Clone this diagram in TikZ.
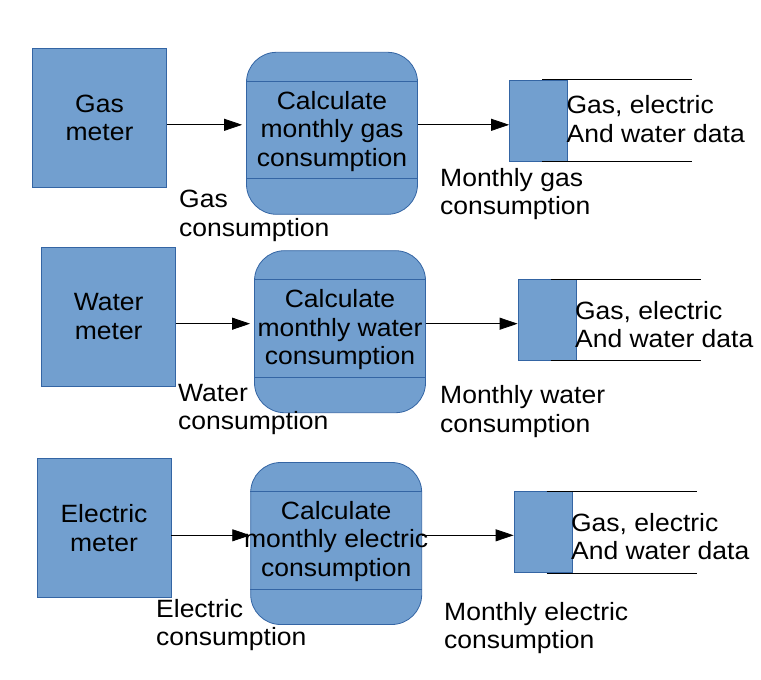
\documentclass[tikz,border=0pt]{standalone}
\usepackage{fontspec}
\setmainfont{Liberation Sans}[FakeStretch=1.06]
\usetikzlibrary{arrows.meta,positioning}

\definecolor{boxfill}{HTML}{729FCF}
\definecolor{boxline}{HTML}{3465A4}

\begin{document}
\begin{tikzpicture}[
	                  x = 1pt,
	                  y = -1pt,
	  every node/.style = {font=\fontsize{25}{28.5}\selectfont},
	       meter/.style = {rectangle, draw=boxline, fill=boxfill, line width=0.8pt,
	                       minimum width=134pt, minimum height=139pt, align=center, inner sep=0pt},
	     process/.style = {rectangle, rounded corners=30pt, draw=boxline, fill=boxfill, line width=0.8pt,
	                       minimum width=171pt, minimum height=162pt, inner sep=0pt},
	    calcword/.style = {anchor=north, align=center, inner sep=0pt},
	       store/.style = {rectangle, draw=boxline, fill=boxfill, line width=0.8pt,
	                       minimum width=58pt, minimum height=81pt, inner sep=0pt},
	        word/.style = {anchor=north west, align=left, inner sep=0pt},
	        flow/.style = {-{Triangle[length=18pt,width=12pt]}, line width=0.8pt}
	                     ]
	\useasboundingbox (0,0) rectangle (761,680);

	% gas
	\node[meter] (gasmeter) at (99.5,117.8) {Gas\\meter};
	\node[process] (gasproc) at (332,133.3) {};
	\draw[boxline, line width=0.8pt] ([yshift=-29pt]gasproc.north west) -- ([yshift=-29pt]gasproc.north east);
	\draw[boxline, line width=0.8pt] ([yshift=36pt]gasproc.south west) -- ([yshift=36pt]gasproc.south east);
	\node[calcword] (gascalc) at ([yshift=-39pt]gasproc.north) {Calculate\\monthly gas\\consumption};
	\node[store] (gasstore) at (538.5,120.5) {};
	\draw ([xshift=33pt]gasstore.north west) -- ++(150,0);
	\draw ([xshift=33pt]gasstore.south west) -- ++(150,0);
	\node[word] (gasdata) at ([xshift=-1.5pt,yshift=-16pt]gasstore.north east) {Gas, electric\\And water data};
	\coordinate (gasflow) at ([yshift=-7pt]gasmeter.east);
	\draw[flow, shorten >=4pt] (gasflow) -- (gasflow -| gasproc.west);
	\draw[flow] (gasflow -| gasproc.east) -- (gasflow -| gasstore.west);
	\node[word] (gasin) at (179,190) {Gas\\consumption};
	\node[word] (gasout) at (440,168) {Monthly gas\\consumption};

	% water
	\node[meter] (watermeter) at (108.7,316.7) {Water\\meter};
	\node[process] (waterproc) at (340,331.7) {};
	\draw[boxline, line width=0.8pt] ([yshift=-29pt]waterproc.north west) -- ([yshift=-29pt]waterproc.north east);
	\draw[boxline, line width=0.8pt] ([yshift=36pt]waterproc.south west) -- ([yshift=36pt]waterproc.south east);
	\node[calcword] (watercalc) at ([yshift=-39pt]waterproc.north) {Calculate\\monthly water\\consumption};
	\node[store] (waterstore) at (547,319.7) {};
	\draw ([xshift=33pt]waterstore.north west) -- ++(150,0);
	\draw ([xshift=33pt]waterstore.south west) -- ++(150,0);
	\node[word] (waterdata) at ([xshift=-1.5pt,yshift=-22pt]waterstore.north east) {Gas, electric\\And water data};
	\coordinate (waterflow) at ([yshift=-7pt]watermeter.east);
	\draw[flow, shorten >=4pt] (waterflow) -- (waterflow -| waterproc.west);
	\draw[flow] (waterflow -| waterproc.east) -- (waterflow -| waterstore.west);
	\node[word] (waterin) at (178,384) {Water\\consumption};
	\node[word] (waterout) at (440,385.5) {Monthly water\\consumption};

	% electric
	\node[meter] (elecmeter) at (104,528.3) {Electric\\meter};
	\node[process] (elecproc) at (336.2,543.5) {};
	\draw[boxline, line width=0.8pt] ([yshift=-29pt]elecproc.north west) -- ([yshift=-29pt]elecproc.north east);
	\draw[boxline, line width=0.8pt] ([yshift=36pt]elecproc.south west) -- ([yshift=36pt]elecproc.south east);
	\node[calcword] (eleccalc) at ([yshift=-39pt]elecproc.north) {Calculate\\monthly electric\\consumption};
	\node[store] (elecstore) at (543,532) {};
	\draw ([xshift=33pt]elecstore.north west) -- ++(150,0);
	\draw ([xshift=33pt]elecstore.south west) -- ++(150,0);
	\node[word] (elecdata) at ([xshift=-1.5pt,yshift=-22pt]elecstore.north east) {Gas, electric\\And water data};
	\coordinate (elecflow) at ([yshift=-7pt]elecmeter.east);
	\draw[flow] (elecflow) -- (elecflow -| elecproc.west);
	\draw[flow] (elecflow -| elecproc.east) -- (elecflow -| elecstore.west);
	\node[word] (elecin) at (156,599) {Electric\\consumption};
	\node[word] (elecout) at (444,602) {Monthly electric\\consumption};
\end{tikzpicture}
\end{document}
